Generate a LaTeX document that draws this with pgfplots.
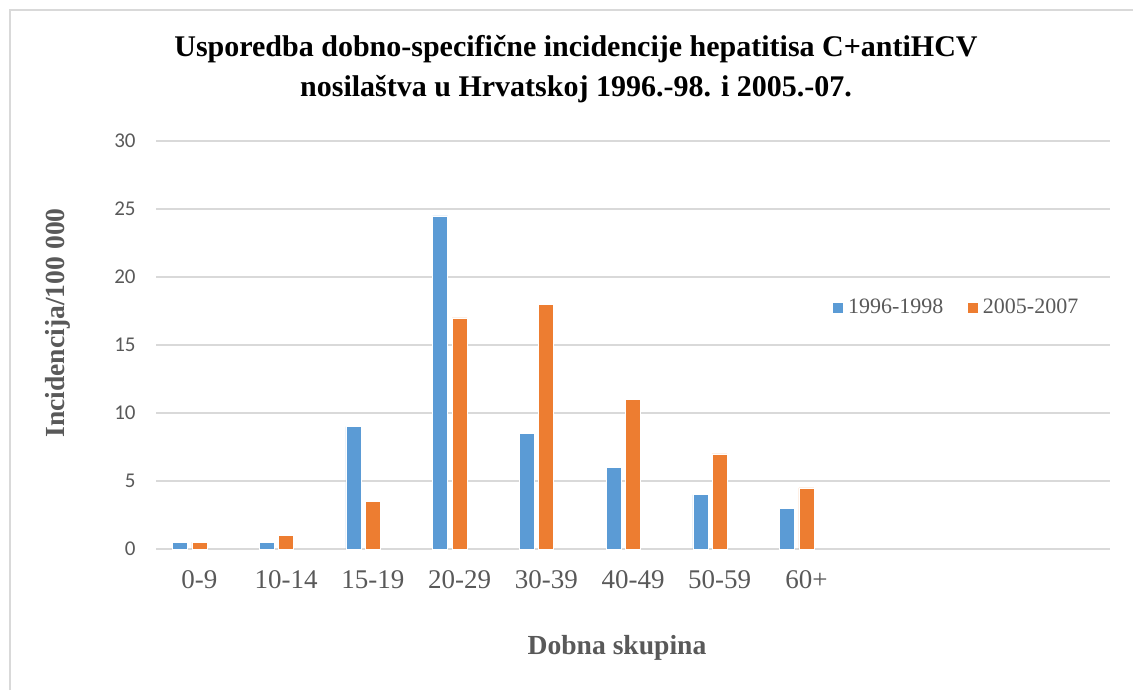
\documentclass[border=0pt]{standalone}
\usepackage{pgfplots}
\pgfplotsset{compat=1.18}
\usepackage{fontspec}
\setmainfont{Liberation Serif}
\newfontfamily\carlito{Carlito}
\definecolor{cblue}{HTML}{5B9BD5}
\definecolor{corange}{HTML}{ED7D31}
\definecolor{cgrid}{HTML}{D9D9D9}
\definecolor{ctext}{HTML}{595959}
\begin{document}
\begin{tikzpicture}
\draw[cgrid, line width=0.75pt] (5pt,-345pt) -- (5pt,-5pt) -- (566.5pt,-5pt);
\node[anchor=base, font=\bfseries\fontsize{15}{18}\selectfont] at (288pt,-28.5pt) {Usporedba dobno-specifične incidencije hepatitisa C+antiHCV};
\node[anchor=base, font=\bfseries\fontsize{15}{18}\selectfont] at (288pt,-48.5pt) {nosilaštva u Hrvatskoj 1996.-98. i 2005.-07.};
\node[anchor=base, font=\bfseries\fontsize{13.8}{16}\selectfont, text=ctext] at (308.5pt,-327pt) {Dobna skupina};
\node[anchor=base, rotate=90, font=\bfseries\fontsize{13.8}{16}\selectfont, text=ctext] at (32pt,-161.5pt) {Incidencija/100 000};
\begin{axis}[
  at={(78pt,-274.5pt)}, anchor=south west,
  scale only axis, width=477pt, height=204pt,
  xmin=-0.5, xmax=10.5, ymin=0, ymax=30,
  ytick={0,5,...,30}, xtick={0,...,7},
  xticklabels={0-9,10-14,15-19,20-29,30-39,40-49,50-59,60+},
  major tick length=0pt,
  axis line style={draw=none},
  ymajorgrids, grid style={cgrid, line width=0.75pt},
  /pgf/number format/assume math mode=true,
  yticklabel style={font=\carlito\fontsize{10.5}{12}\selectfont, text=ctext, anchor=east, inner sep=0pt, xshift=-10pt},
  xticklabel style={font=\fontsize{13.5}{16}\selectfont, text=ctext, anchor=base, inner sep=0pt, yshift=-19.5pt},
  legend style={at={(0.7086,0.5907)}, anchor=west, draw=none, fill=none, legend columns=2,
    font=\fontsize{11}{13}\selectfont, text=ctext, inner sep=0pt,
    /tikz/every even column/.append style={column sep=10pt}},
  legend image code/.code={\fill[#1] (0pt,-2.75pt) rectangle (5.5pt,2.75pt);},
]
\addplot[ybar, bar width=7.5pt, bar shift=-9.7pt, fill=cblue, draw=white, line width=0.3pt]
  coordinates {(0,0.5) (1,0.5) (2,9) (3,24.5) (4,8.5) (5,6) (6,4) (7,3)};
\addlegendentry{1996-1998}
\addplot[ybar, bar width=7.5pt, bar shift=0pt, fill=corange, draw=white, line width=0.3pt]
  coordinates {(0,0.5) (1,1) (2,3.5) (3,17) (4,18) (5,11) (6,7) (7,4.5)};
\addlegendentry{2005-2007}
\end{axis}
\pgfresetboundingbox
\path[use as bounding box] (0pt,0pt) rectangle (566.5pt,-345pt);
\end{tikzpicture}
\end{document}
